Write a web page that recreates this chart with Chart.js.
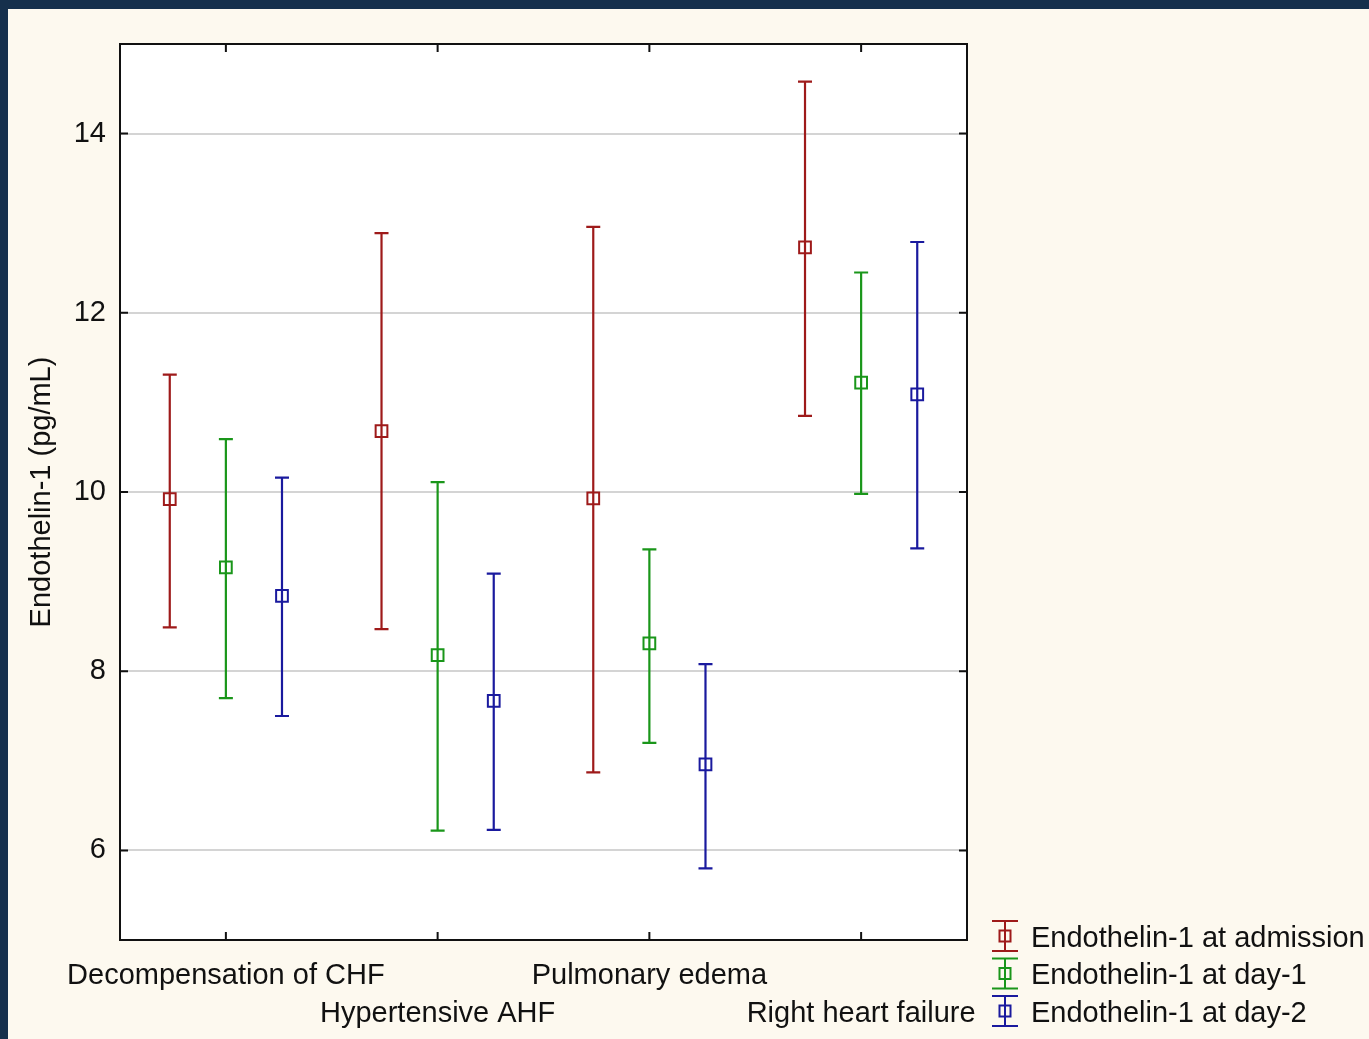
<!DOCTYPE html>
<html>
<head>
<meta charset="utf-8">
<script src="https://cdn.jsdelivr.net/npm/chart.js@4.4.1/dist/chart.umd.min.js"></script>
<style>
  html, body { margin: 0; padding: 0; }
  body { width: 1369px; height: 1039px; background: #16304c; overflow: hidden; position: relative; }
  #panel { position: absolute; left: 8px; top: 9px; width: 1361px; height: 1030px; background: #fdf9ef; }
</style>
</head>
<body>
<div id="panel"><canvas id="myChart"></canvas></div>
<script>
let categories = ['Decompensation of CHF', 'Hypertensive AHF', 'Pulmonary edema', 'Right heart failure'];
let seriesNames = ['Endothelin-1 at admission', 'Endothelin-1 at day-1', 'Endothelin-1 at day-2'];
let admissionMean = [9.92, 10.68, 9.93, 12.73];
let admissionLow = [8.49, 8.47, 6.87, 10.85];
let admissionHigh = [11.31, 12.89, 12.96, 14.58];
let day1Mean = [9.16, 8.18, 8.31, 11.22];
let day1Low = [7.70, 6.22, 7.20, 9.98];
let day1High = [10.59, 10.11, 9.36, 12.45];
let day2Mean = [8.84, 7.67, 6.96, 11.09];
let day2Low = [7.50, 6.23, 5.80, 9.37];
let day2High = [10.16, 9.09, 8.08, 12.79];
let yTicks = [6, 8, 10, 12, 14];

let colors = ['#9e1a1a', '#1a961a', '#1a1a9e'];
let offsets = [-0.265, 0, 0.265];
let fontFamily = "'Liberation Sans', Arial, sans-serif";

function points(mean, low, high, s){
  let pts = [];
  for (let i = 0; i < mean.length; i++) {
    pts.push({x: i + 1 + offsets[s], y: mean[i], lo: low[i], hi: high[i]});
  }
  return pts;
}

let seriesData = [
  points(admissionMean, admissionLow, admissionHigh, 0),
  points(day1Mean, day1Low, day1High, 1),
  points(day2Mean, day2Low, day2High, 2)
];

let datasets = seriesData.map((d, s) => ({
  label: seriesNames[s],
  data: d,
  showLine: false,
  pointStyle: 'rect',
  pointRadius: 8.3,
  pointBorderWidth: 2,
  borderColor: colors[s],
  backgroundColor: 'rgba(0,0,0,0)'
}));

// white plot box, error bars, frame, inward ticks and the legend
let extras = {
  id: 'extras',
  beforeDraw(chart){
    let a = chart.chartArea;
    let ctx = chart.ctx;
    ctx.save();
    ctx.fillStyle = '#ffffff';
    ctx.fillRect(a.left, a.top, a.right - a.left, a.bottom - a.top);
    ctx.restore();
  },
  beforeDatasetsDraw(chart){
    let ctx = chart.ctx;
    let xs = chart.scales.x;
    let ys = chart.scales.y;
    ctx.save();
    ctx.lineWidth = 2.2;
    chart.data.datasets.forEach((ds, s) => {
      ctx.strokeStyle = colors[s];
      ds.data.forEach(p => {
        let x = xs.getPixelForValue(p.x);
        let y1 = ys.getPixelForValue(p.lo);
        let y2 = ys.getPixelForValue(p.hi);
        ctx.beginPath();
        ctx.moveTo(x, y1);
        ctx.lineTo(x, y2);
        ctx.moveTo(x - 7, y1);
        ctx.lineTo(x + 7, y1);
        ctx.moveTo(x - 7, y2);
        ctx.lineTo(x + 7, y2);
        ctx.stroke();
      });
    });
    ctx.restore();
  },
  afterDraw(chart){
    let a = chart.chartArea;
    let ctx = chart.ctx;
    let xs = chart.scales.x;
    let ys = chart.scales.y;
    ctx.save();
    ctx.strokeStyle = '#111111';
    ctx.lineWidth = 2;
    ctx.strokeRect(a.left, a.top, a.right - a.left, a.bottom - a.top);
    ctx.beginPath();
    xs.ticks.forEach(t => {
      let x = xs.getPixelForValue(t.value);
      ctx.moveTo(x, a.bottom);
      ctx.lineTo(x, a.bottom - 8);
      ctx.moveTo(x, a.top);
      ctx.lineTo(x, a.top + 8);
    });
    ys.ticks.forEach(t => {
      let y = ys.getPixelForValue(t.value);
      ctx.moveTo(a.left, y);
      ctx.lineTo(a.left + 8, y);
      ctx.moveTo(a.right, y);
      ctx.lineTo(a.right - 8, y);
    });
    ctx.stroke();

    // legend
    ctx.font = '29px ' + fontFamily;
    ctx.textBaseline = 'middle';
    ctx.textAlign = 'left';
    seriesNames.forEach((name, s) => {
      let cy = a.bottom - 4 + s * 37.5;
      let cx = a.right + 38;
      ctx.strokeStyle = colors[s];
      ctx.lineWidth = 2;
      ctx.beginPath();
      ctx.moveTo(cx, cy - 15);
      ctx.lineTo(cx, cy + 15);
      ctx.moveTo(cx - 13, cy - 15);
      ctx.lineTo(cx + 13, cy - 15);
      ctx.moveTo(cx - 13, cy + 15);
      ctx.lineTo(cx + 13, cy + 15);
      ctx.stroke();
      ctx.strokeRect(cx - 5.5, cy - 5.5, 11, 11);
      ctx.fillStyle = '#111111';
      ctx.fillText(name, a.right + 64, cy + 2.5);
    });
    ctx.restore();
  }
};

let ctx = document.getElementById('myChart').getContext('2d');
let myChart = new Chart(ctx, {
  type: 'scatter',
  data: { datasets: datasets },
  plugins: [extras],
  options: {
    responsive: true,
    maintainAspectRatio: false,
    animation: false,
    events: [],
    layout: { padding: { left: 0, top: 35, right: 402, bottom: 0 } },
    plugins: {
      legend: { display: false },
      tooltip: { enabled: false }
    },
    scales: {
      x: {
        type: 'linear',
        min: 0.5,
        max: 4.5,
        afterBuildTicks: axis => { axis.ticks = categories.map((c, i) => ({value: i + 1})); },
        afterFit: axis => { axis.height = 99; },
        grid: { display: false, drawTicks: false },
        border: { display: false },
        ticks: {
          autoSkip: false,
          maxRotation: 0,
          minRotation: 0,
          padding: 17,
          color: '#111111',
          font: { family: fontFamily, size: 29, lineHeight: '38px' },
          callback: value => {
            let i = Math.round(value) - 1;
            return i % 2 === 0 ? [categories[i]] : ['', categories[i]];
          }
        }
      },
      y: {
        min: 5,
        max: 15,
        afterBuildTicks: axis => { axis.ticks = yTicks.map(v => ({value: v})); },
        afterFit: axis => { axis.width = 112; },
        grid: { color: '#d4d4d4', lineWidth: 2, drawTicks: false },
        border: { display: false },
        ticks: {
          padding: 14,
          color: '#111111',
          font: { family: fontFamily, size: 29 }
        },
        title: {
          display: true,
          text: 'Endothelin-1 (pg/mL)',
          color: '#111111',
          font: { family: fontFamily, size: 29 },
          padding: { top: 17, bottom: 0 }
        }
      }
    }
  }
});
</script>
</body>
</html>
